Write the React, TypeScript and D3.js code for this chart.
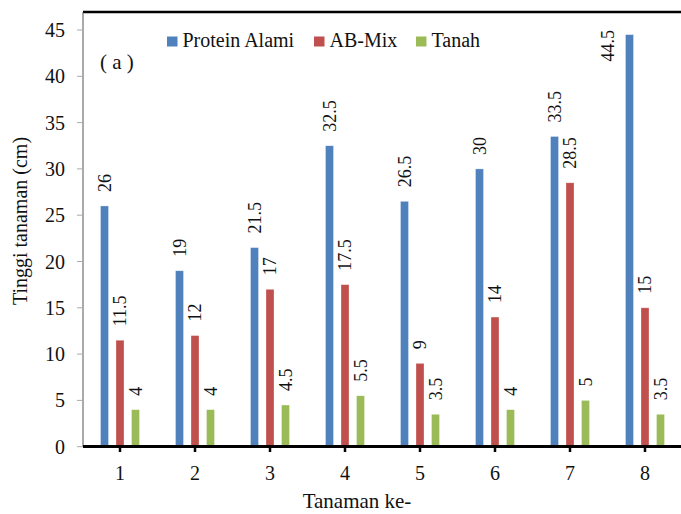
import React from "react";
import * as d3 from "d3";

const categories = ["1", "2", "3", "4", "5", "6", "7", "8"];
const seriesNames = ["Protein Alami", "AB-Mix", "Tanah"];
const proteinAlami = [26, 19, 21.5, 32.5, 26.5, 30, 33.5, 44.5];
const abMix = [11.5, 12, 17, 17.5, 9, 14, 28.5, 15];
const tanah = [4, 4, 4.5, 5.5, 3.5, 4, 5, 3.5];
const yTicks = [0, 5, 10, 15, 20, 25, 30, 35, 40, 45];
const colors = ["#4F81BD", "#C0504D", "#9BBB59"];

const W = 681;
const H = 514;
const FONT = "Liberation Serif, DejaVu Serif, serif";
const tStyle = { fontFamily: FONT };

export default function App() {
  const series = [proteinAlami, abMix, tanah];
  const x = d3.scaleBand<string>().domain(categories).range([82.5, 682.5]);
  const y = d3.scaleLinear().domain([0, 45]).range([446.7, 30]);
  const offsets = [-15.5, 0, 15.5];
  const barW = 8;

  return (
    <svg
      width={W}
      height={H}
      style={{ position: "absolute", left: 0, top: 0, background: "#fff", fontFamily: FONT }}
    >
      {/* plot border: top and left */}
      <line x1={83} x2={W} y1={12} y2={12} stroke="#000" strokeWidth={2.5} />
      <line x1={83} x2={83} y1={12} y2={447} stroke="#555" strokeWidth={1} />

      {/* y ticks */}
      {yTicks.map((t) => (
        <g key={t}>
          <line x1={77} x2={83} y1={y(t)} y2={y(t)} stroke="#aaa" strokeWidth={1} />
          <text
            x={65}
            y={y(t)}
            textAnchor="end"
            dominantBaseline="central"
            fontSize={20}
            fill="#111"
            style={tStyle}
          >
            {t}
          </text>
        </g>
      ))}

      {/* bars */}
      {series.map((vals, si) =>
        vals.map((v, i) => {
          const cx = (x(categories[i]) as number) + x.bandwidth() / 2 + offsets[si];
          const overflow = y(v) - 14 - 34 < 14;
          const tr = overflow
            ? `translate(${cx - 16},${30}) rotate(-90)`
            : `translate(${cx + 6},${y(v) - 14}) rotate(-90)`;
          return (
            <g key={`${si}-${i}`}>
              <rect
                x={cx - barW / 2}
                y={y(v)}
                width={barW}
                height={y(0) - y(v)}
                fill={colors[si]}
                stroke="#ffffff"
                strokeOpacity={0.5}
                strokeWidth={0.6}
              />
              <text
                transform={tr}
                textAnchor={overflow ? "end" : "start"}
                fontSize={18}
                fill="#111"
                style={tStyle}
              >
                {v}
              </text>
            </g>
          );
        })
      )}

      {/* x axis */}
      <line x1={83} x2={W} y1={446.5} y2={446.5} stroke="#000" strokeWidth={3} />
      {categories.map((c) => {
        const cx = (x(c) as number) + x.bandwidth() / 2;
        return (
          <g key={c}>
            <line x1={cx} x2={cx} y1={446} y2={452} stroke="#000" strokeWidth={2.5} />
            <text x={cx} y={480} textAnchor="middle" fontSize={20} fill="#111" style={tStyle}>
              {c}
            </text>
          </g>
        );
      })}

      {/* axis titles */}
      <text x={357} y={508} textAnchor="middle" fontSize={21} fill="#111" style={tStyle}>
        Tanaman ke-
      </text>
      <text
        transform={`translate(27,221) rotate(-90)`}
        textAnchor="middle"
        fontSize={20}
        fill="#111"
        style={tStyle}
      >
        Tinggi tanaman (cm)
      </text>

      {/* panel label */}
      <text x={100} y={69} fontSize={21} fill="#111" style={{ ...tStyle, whiteSpace: "pre" }}>
        {"( a )"}
      </text>

      {/* legend */}
      {seriesNames.map((n, i) => {
        const lx = [167, 314, 416][i];
        return (
          <g key={n}>
            <rect x={lx} y={36.5} width={10.5} height={10} fill={colors[i]} />
            <text x={lx + 15.5} y={47} fontSize={20} fill="#111" style={tStyle}>
              {n}
            </text>
          </g>
        );
      })}
    </svg>
  );
}
